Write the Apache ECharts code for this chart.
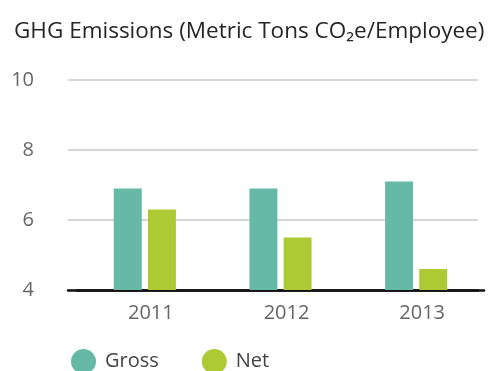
<!DOCTYPE html>
<html><head><meta charset="utf-8">
<script src="https://cdn.jsdelivr.net/npm/echarts@6/dist/echarts.min.js"></script>
<style>html,body{margin:0;padding:0;background:#fff}#c{width:488px;height:371px}</style>
</head><body><div id="c"></div>
<script>
const categories = ['2011', '2012', '2013'];
const gross = [6.9, 6.9, 7.1];
const net = [6.3, 5.5, 4.6];
const yTicks = [4, 6, 8, 10];

const chart = echarts.init(document.getElementById('c'));
const font = '"Open Sans", "Noto Sans", sans-serif';
chart.setOption({
  animation: false,
  title: {
    text: 'GHG Emissions (Metric Tons CO\u2082e/Employee)',
    left: 9, top: 15,
    textStyle: { fontFamily: font, fontSize: 22.5, fontWeight: 'normal', color: '#262626' }
  },
  legend: {
    left: 66, top: 344,
    icon: 'circle', itemWidth: 25, itemHeight: 25, itemGap: 43,
    textStyle: { fontFamily: font, fontSize: 20, color: '#444', padding: [0, 0, 0, 4] },
    data: ['Gross', 'Net']
  },
  grid: [
    { left: 68, right: 10, top: 80, bottom: 81 },
    { left: 77, right: 4, top: 80, bottom: 81 }
  ],
  xAxis: [
    { gridIndex: 0, type: 'category', data: categories, show: true,
      axisLine: { lineStyle: { color: '#111', width: 2.5 } }, axisTick: { show: false }, axisLabel: { show: false } },
    { gridIndex: 1, type: 'category', data: categories,
      axisLine: { lineStyle: { color: '#111', width: 2.5 } }, axisTick: { show: false },
      axisLabel: { fontFamily: font, fontSize: 20, color: '#666', margin: 13, padding: [0, 0, 0, 12] } }
  ],
  yAxis: [
    { gridIndex: 0, type: 'value', min: yTicks[0], max: yTicks[yTicks.length - 1], interval: 2,
      axisLine: { show: false }, axisTick: { show: false },
      axisLabel: { fontFamily: font, fontSize: 20, color: '#666', margin: 34 },
      splitLine: { lineStyle: { color: '#c8c8c8', width: 1.5 } } },
    { gridIndex: 1, type: 'value', min: yTicks[0], max: yTicks[yTicks.length - 1], interval: 2,
      show: false, splitLine: { show: false } }
  ],
  series: [
    { name: 'Gross', type: 'bar', xAxisIndex: 1, yAxisIndex: 1, data: gross,
      barWidth: 28, barGap: '22%', itemStyle: { color: '#67b9a7' } },
    { name: 'Net', type: 'bar', xAxisIndex: 1, yAxisIndex: 1, data: net,
      barWidth: 28, itemStyle: { color: '#adc934' } }
  ]
});
</script></body></html>
